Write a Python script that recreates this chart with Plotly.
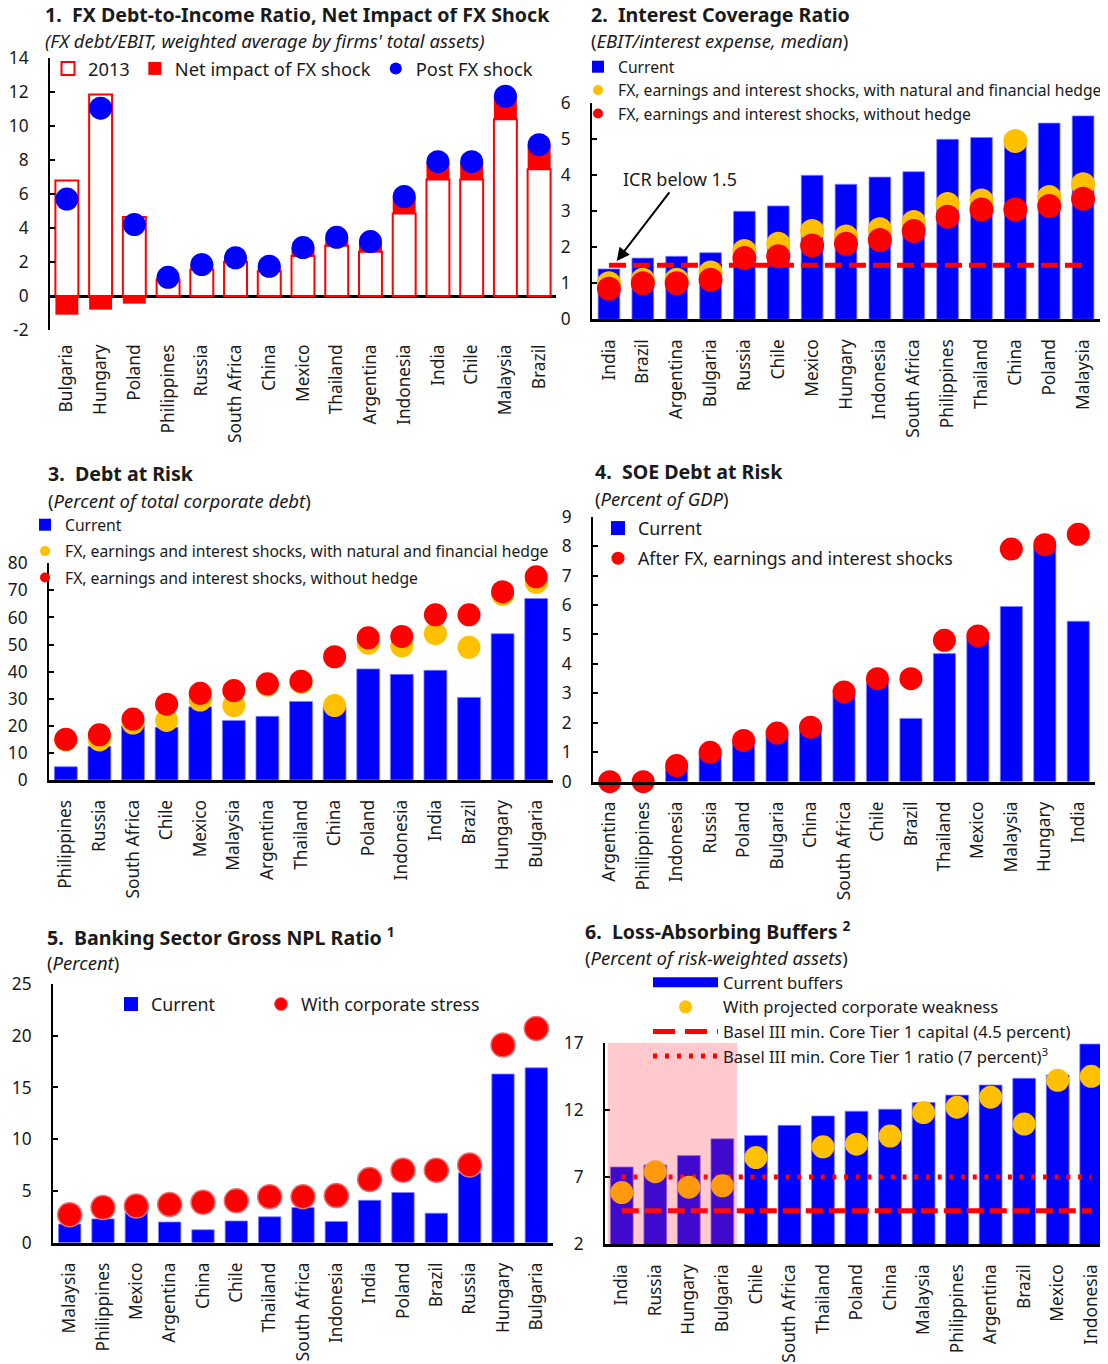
import plotly.graph_objects as go

W, H = 1108, 1364
OFF = 8  # the page body keeps its default 8px margin
FONT = "Noto Sans"
INK = "#1a1a1a"
BLUE = "#0000ff"
RED = "#ff0000"
GOLD = "#ffc000"

# 1. FX debt-to-income
fx_countries = ["Bulgaria", "Hungary", "Poland", "Philippines", "Russia", "South Africa", "China",
                "Mexico", "Thailand", "Argentina", "Indonesia", "India", "Chile", "Malaysia", "Brazil"]
fx_2013 = [6.8, 11.85, 4.65, 0.95, 1.55, 2.0, 1.45, 2.35, 2.95, 2.6, 4.85, 6.85, 6.85, 10.4, 7.45]
fx_net = [-1.1, -0.8, -0.45, 0.15, 0.3, 0.25, 0.3, 0.5, 0.5, 0.6, 1.0, 1.05, 1.05, 1.35, 1.45]
fx_post = [5.7, 11.05, 4.2, 1.1, 1.85, 2.25, 1.75, 2.85, 3.45, 3.2, 5.85, 7.9, 7.9, 11.75, 8.9]
fx_ticks = [-2, 0, 2, 4, 6, 8, 10, 12, 14]

# 2. Interest coverage ratio
icr_countries = ["India", "Brazil", "Argentina", "Bulgaria", "Russia", "Chile", "Mexico", "Hungary",
                 "Indonesia", "South Africa", "Philippines", "Thailand", "China", "Poland", "Malaysia"]
icr_current = [1.4, 1.7, 1.75, 1.85, 3.0, 3.15, 4.0, 3.75, 3.95, 4.1, 5.0, 5.05, 4.85, 5.45, 5.65]
icr_hedge = [1.0, 1.1, 1.1, 1.3, 1.9, 2.1, 2.45, 2.3, 2.5, 2.7, 3.2, 3.3, 4.95, 3.4, 3.75]
icr_nohedge = [0.85, 1.0, 1.0, 1.1, 1.7, 1.75, 2.05, 2.1, 2.2, 2.45, 2.85, 3.05, 3.05, 3.15, 3.35]
icr_threshold = 1.5

# 3. Debt at risk
dar_countries = ["Philippines", "Russia", "South Africa", "Chile", "Mexico", "Malaysia", "Argentina",
                 "Thailand", "China", "Poland", "Indonesia", "India", "Brazil", "Hungary", "Bulgaria"]
dar_current = [4.9, 12.5, 20, 19.5, 27, 22, 23.5, 29, 27, 41, 39, 40.5, 30.5, 54, 67]
dar_hedge = [14.8, 14.8, 21, 22, 29.5, 27.5, 35, 36, 27.5, 50.5, 49.5, 54, 49, 68.5, 73]
dar_nohedge = [15, 16.7, 22.5, 28, 32, 33, 35.5, 36.5, 45.5, 52.5, 53, 61, 61, 69.5, 75]

# 4. SOE debt at risk
soe_countries = ["Argentina", "Philippines", "Indonesia", "Russia", "Poland", "Bulgaria", "China",
                 "South Africa", "Chile", "Brazil", "Thailand", "Mexico", "Malaysia", "Hungary", "India"]
soe_current = [0, 0, 0.5, 0.95, 1.35, 1.6, 1.8, 2.95, 3.4, 2.15, 4.35, 4.9, 5.95, 8.0, 5.45]
soe_after = [0, 0, 0.55, 1.0, 1.4, 1.65, 1.85, 3.05, 3.5, 3.5, 4.8, 4.95, 7.9, 8.05, 8.4]

# 5. NPL ratio
npl_countries = ["Malaysia", "Philippines", "Mexico", "Argentina", "China", "Chile", "Thailand",
                 "South Africa", "Indonesia", "India", "Poland", "Brazil", "Russia", "Hungary", "Bulgaria"]
npl_current = [1.8, 2.3, 3.0, 2.0, 1.25, 2.1, 2.5, 3.4, 2.05, 4.1, 4.85, 2.85, 6.75, 16.3, 16.9]
npl_stress = [2.7, 3.4, 3.55, 3.7, 3.9, 4.05, 4.45, 4.45, 4.55, 6.1, 7.0, 7.0, 7.5, 19.1, 20.7]

# 6. Loss-absorbing buffers
buf_countries = ["India", "Russia", "Hungary", "Bulgaria", "Chile", "South Africa", "Thailand", "Poland",
                 "China", "Malaysia", "Philippines", "Argentina", "Brazil", "Mexico", "Indonesia"]
buf_current = [7.75, 7.9, 8.6, 9.85, 10.1, 10.85, 11.55, 11.9, 12.05, 12.55, 13.1, 13.85, 14.35, 14.6, 16.9]
buf_weak = [5.85, 7.4, 6.25, 6.35, 8.45, None, 9.25, 9.45, 10.05, 11.8, 12.2, 12.95, 10.95, 14.2, 14.5]
basel_capital = 4.5
basel_ratio = 7.0
shaded_last = "Bulgaria"


def fx(p):
    return (p - OFF) / W


def fy(p):
    return 1 - (p - OFF) / H


fig = go.Figure()


def ax_names(n):
    return ("x", "y") if n == 1 else (f"x{n}", f"y{n}")


def dummy(n, legend, name, **kw):
    # legend-only entry, keeps the legend key sizes under control
    xa, ya = ax_names(n)
    fig.add_scatter(x=[None], y=[None], xaxis=xa, yaxis=ya, name=name, legend=legend,
                    legendgroup=name, **kw)


# ---- panel 1
fig.add_bar(x=fx_countries, y=fx_2013, width=0.68, xaxis="x", yaxis="y", showlegend=False,
            marker=dict(color="white", line=dict(color=RED, width=2)))
fig.add_bar(x=fx_countries, y=fx_net, width=0.68, xaxis="x", yaxis="y", showlegend=False,
            marker=dict(color=RED, line=dict(width=0)))
fig.add_scatter(x=fx_countries, y=fx_post, mode="markers", xaxis="x", yaxis="y", showlegend=False,
                marker=dict(color=BLUE, size=23))
dummy(1, "legend", "2013", mode="markers", marker=dict(symbol="square-open", color=RED, size=13, line=dict(width=2)))
dummy(1, "legend", "Net impact of FX shock", mode="markers", marker=dict(symbol="square", color=RED, size=13))
dummy(1, "legend", "Post FX shock", mode="markers", marker=dict(color=BLUE, size=12))

# ---- panel 2
fig.add_bar(x=icr_countries, y=icr_current, width=0.64, xaxis="x2", yaxis="y2", showlegend=False,
            marker=dict(color=BLUE, line=dict(color="#7f7fff", width=0.8)))
fig.add_scatter(x=icr_countries, y=[icr_threshold] * len(icr_countries), mode="lines", xaxis="x2", yaxis="y2",
                showlegend=False, line=dict(color=RED, width=5, dash="17px,7px"))
fig.add_scatter(x=icr_countries, y=icr_hedge, mode="markers", xaxis="x2", yaxis="y2", showlegend=False,
                marker=dict(color=GOLD, size=24))
fig.add_scatter(x=icr_countries, y=icr_nohedge, mode="markers", xaxis="x2", yaxis="y2", showlegend=False,
                marker=dict(color=RED, size=24))
dummy(2, "legend2", "Current", mode="markers", marker=dict(symbol="square", color=BLUE, size=12))
dummy(2, "legend2", "FX, earnings and interest shocks, with natural and financial hedge", mode="markers",
      marker=dict(color=GOLD, size=10))
dummy(2, "legend2", "FX, earnings and interest shocks, without hedge", mode="markers",
      marker=dict(color=RED, size=10))

# ---- panel 3
fig.add_bar(x=dar_countries, y=dar_current, width=0.68, xaxis="x3", yaxis="y3", showlegend=False,
            marker=dict(color=BLUE, line=dict(color="#7f7fff", width=0.8)))
fig.add_scatter(x=dar_countries, y=dar_hedge, mode="markers", xaxis="x3", yaxis="y3", showlegend=False,
                marker=dict(color=GOLD, size=23))
fig.add_scatter(x=dar_countries, y=dar_nohedge, mode="markers", xaxis="x3", yaxis="y3", showlegend=False,
                marker=dict(color=RED, size=23))
dummy(3, "legend3", "Current", mode="markers", marker=dict(symbol="square", color=BLUE, size=12))
dummy(3, "legend3", "FX, earnings and interest shocks, with natural and financial hedge", mode="markers",
      marker=dict(color=GOLD, size=10))
dummy(3, "legend3", "FX, earnings and interest shocks, without hedge", mode="markers",
      marker=dict(color=RED, size=10))

# ---- panel 4
fig.add_bar(x=soe_countries, y=soe_current, width=0.66, xaxis="x4", yaxis="y4", showlegend=False,
            marker=dict(color=BLUE, line=dict(color="#7f7fff", width=0.8)))
fig.add_scatter(x=soe_countries, y=soe_after, mode="markers", xaxis="x4", yaxis="y4", showlegend=False,
                marker=dict(color=RED, size=23), cliponaxis=False)
dummy(4, "legend4", "Current", mode="markers", marker=dict(symbol="square", color=BLUE, size=14))
dummy(4, "legend4", "After FX, earnings and interest shocks", mode="markers", marker=dict(color=RED, size=13))

# ---- panel 5
fig.add_bar(x=npl_countries, y=npl_current, width=0.67, xaxis="x5", yaxis="y5", showlegend=False,
            marker=dict(color=BLUE, line=dict(color="#7f7fff", width=0.8)))
fig.add_scatter(x=npl_countries, y=npl_stress, mode="markers", xaxis="x5", yaxis="y5", showlegend=False,
                marker=dict(color=RED, size=24, line=dict(color="#e87070", width=1.5)))
dummy(5, "legend5", "Current", mode="markers", marker=dict(symbol="square", color=BLUE, size=14))
dummy(5, "legend7", "With corporate stress", mode="markers",
      marker=dict(color=RED, size=13, line=dict(color="#e87070", width=1)))

# ---- panel 6
fig.add_bar(x=buf_countries, y=buf_current, width=0.68, xaxis="x6", yaxis="y6", showlegend=False,
            marker=dict(color=BLUE, line=dict(color="#7f7fff", width=0.8)))
fig.add_scatter(x=buf_countries, y=[basel_capital] * len(buf_countries), mode="lines", xaxis="x6", yaxis="y6",
                showlegend=False, line=dict(color=RED, width=5, dash="17px,6px"))
fig.add_scatter(x=buf_countries, y=[basel_ratio] * len(buf_countries), mode="lines", xaxis="x6", yaxis="y6",
                showlegend=False, line=dict(color=RED, width=5, dash="4px,7.7px"))
fig.add_scatter(x=buf_countries, y=buf_weak, mode="markers", xaxis="x6", yaxis="y6", showlegend=False,
                marker=dict(color=GOLD, size=23))
dummy(6, "legend6", "Current buffers", mode="lines", line=dict(color=BLUE, width=12))
dummy(6, "legend6", "With projected corporate weakness", mode="markers", marker=dict(color=GOLD, size=13))
dummy(6, "legend6", "Basel III min. Core Tier 1 capital (4.5 percent)", mode="lines",
      line=dict(color=RED, width=5, dash="22px,10px"))
dummy(6, "legend6", "Basel III min. Core Tier 1 ratio (7 percent)<sup>3</sup>", mode="lines",
      line=dict(color=RED, width=5, dash="4px,8px"))

# ---- axes (pixel boxes of each plot area, screenshot coordinates)
panels = {
    1: dict(xd=(50, 556), yd=(58, 330), yr=[-2, 14], dt=2, t0=0, zero=True),
    2: dict(xd=(592, 1100), yd=(103.3, 319.3), yr=[0, 6], dt=1, t0=0, zero=False),
    3: dict(xd=(49, 553), yd=(563.3, 780), yr=[0, 80], dt=10, t0=0, zero=False),
    4: dict(xd=(593, 1095), yd=(516.7, 781.7), yr=[0, 9], dt=1, t0=0, zero=False),
    5: dict(xd=(53, 553), yd=(984, 1242.7), yr=[0, 25], dt=5, t0=0, zero=False),
    6: dict(xd=(605, 1108), yd=(1042.7, 1244.3), yr=[2, 17], dt=5, t0=2, zero=False),
}
tick_font = dict(family=FONT, size=17.3, color=INK)
layout_axes = {}
for n, p in panels.items():
    xa, ya = ax_names(n)
    layout_axes["xaxis" if n == 1 else f"xaxis{n}"] = dict(
        domain=[fx(p["xd"][0]), fx(p["xd"][1])], anchor=ya, type="category", range=[-0.5, 14.5],
        tickangle=-90, showline=not p["zero"], linecolor="black", linewidth=3, ticks="",
        tickfont=tick_font, ticklabelstandoff=10, showgrid=False, zeroline=False, fixedrange=True,
        automargin=False)
    layout_axes["yaxis" if n == 1 else f"yaxis{n}"] = dict(
        domain=[fy(p["yd"][1]), fy(p["yd"][0])], anchor=xa, range=p["yr"], dtick=p["dt"],
        tick0=p["t0"], showline=True, linecolor="black", linewidth=2, ticks="inside", ticklen=5,
        tickwidth=2, tickcolor="black", showgrid=False, zeroline=p["zero"], zerolinecolor="black",
        zerolinewidth=3, tickfont=tick_font, ticklabelstandoff=16, fixedrange=True, automargin=False)

# plain hyphen for the negative tick, as in the original
layout_axes["yaxis"].update(tickmode="array", tickvals=fx_ticks, ticktext=[str(t) for t in fx_ticks])


def leg(xp, yp, size, orient="v", gap=0, itemwidth=30):
    return dict(x=fx(xp), y=fy(yp), xanchor="left", yanchor="top", orientation=orient,
                font=dict(family=FONT, size=size, color=INK), bgcolor="rgba(0,0,0,0)",
                tracegroupgap=gap, itemwidth=itemwidth, traceorder="grouped")


def title(xp, yp, text, size=19.6, bold=True):
    return dict(xref="paper", yref="paper", x=fx(xp), y=fy(yp), xanchor="left", yanchor="middle",
                showarrow=False, text=("<b>%s</b>" % text) if bold else text,
                font=dict(family=FONT, size=size, color=INK))


sp = "\u00a0\u00a0"
SUB = 18.5
annotations = [
    title(43, 15, "1." + sp + "FX Debt-to-Income Ratio, Net Impact of FX Shock"),
    title(43, 41, "<i>(FX debt/EBIT, weighted average by firms' total assets)</i>", SUB, False),
    title(589, 15, "2." + sp + "Interest Coverage Ratio"),
    title(589, 41, "(<i>EBIT/interest expense, median</i>)", SUB, False),
    title(46, 474, "3." + sp + "Debt at Risk"),
    title(46, 500, "(<i>Percent of total corporate debt</i>)", SUB, False),
    title(593, 472, "4." + sp + "SOE Debt at Risk"),
    title(593, 498, "(<i>Percent of GDP</i>)", SUB, False),
    title(45, 937, "5." + sp + "Banking Sector Gross NPL Ratio <sup>1</sup>"),
    title(45, 962, "(<i>Percent</i>)", SUB, False),
    title(583, 931, "6." + sp + "Loss-Absorbing Buffers <sup>2</sup>"),
    title(583, 957, "(<i>Percent of risk-weighted assets</i>)", SUB, False),
    dict(xref="x2", yref="y2", x=0.23, y=1.62, ax=63, ay=-82, text="ICR below 1.5", showarrow=True,
         arrowhead=2, arrowsize=1.3, arrowwidth=2, arrowcolor="black",
         font=dict(family=FONT, size=18, color=INK)),
]

shapes = [
    dict(type="rect", xref="x6", yref="y6", x0=-0.42, x1=buf_countries.index(shaded_last) + 0.44,
         y0=2, y1=17, fillcolor="rgba(255,40,60,0.25)", line=dict(width=0), layer="above"),
]

fig.update_layout(
    width=W, height=H, margin=dict(l=0, r=0, t=0, b=0, autoexpand=False),
    paper_bgcolor="white", plot_bgcolor="white", barmode="relative", bargap=0.3,
    font=dict(family=FONT, color=INK),
    legend=leg(48, 50, 18.3, "h"),
    legend2=leg(578, 50, 15.7),
    legend3=leg(25, 508, 15.7, gap=3),
    legend4=leg(598, 510, 17.8, gap=4),
    legend5=leg(111, 986, 17.8),
    legend7=leg(261, 986, 17.8),
    legend6=leg(648, 965, 16.6, itemwidth=65),
    annotations=annotations, shapes=shapes,
    **layout_axes,
)

fig.write_html("out.html")
